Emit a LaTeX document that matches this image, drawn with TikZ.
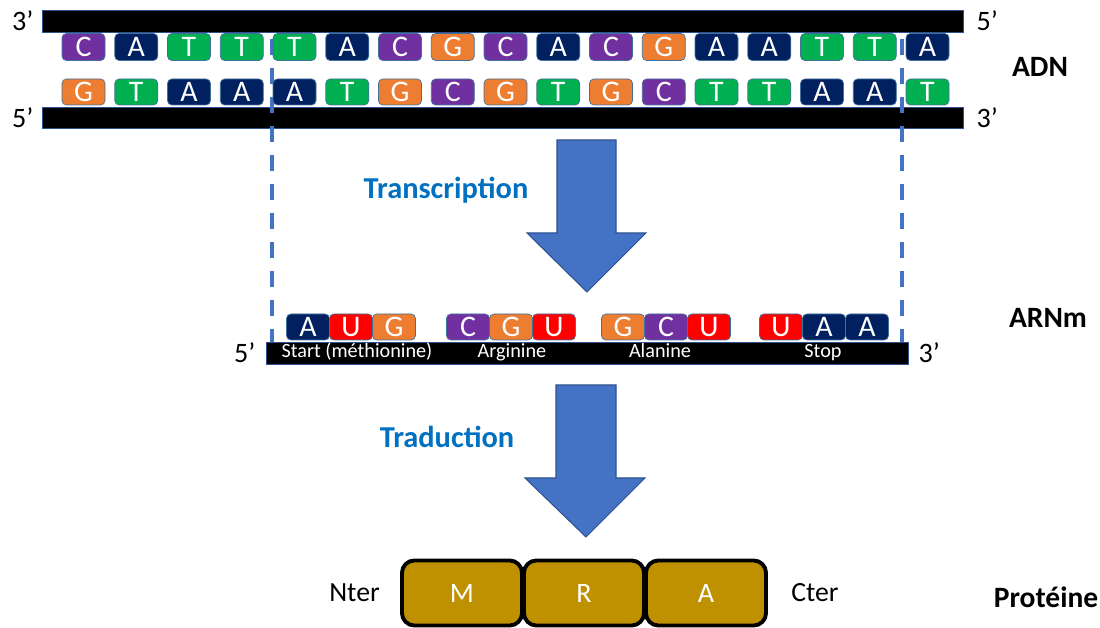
\documentclass[tikz,border=0pt]{standalone}
\usepackage{fontspec}
\setmainfont{Carlito}
\usepackage{xcolor}
\usetikzlibrary{calc,positioning}
\definecolor{nucA}{HTML}{002060}
\definecolor{nucT}{HTML}{00B050}
\definecolor{nucC}{HTML}{7030A0}
\definecolor{nucG}{HTML}{ED7D31}
\definecolor{nucU}{HTML}{FF0000}
\definecolor{boxedge}{HTML}{41719C}
\definecolor{bigblue}{HTML}{4472C4}
\definecolor{bigedge}{HTML}{2F528F}
\definecolor{steptext}{HTML}{0070C0}
\definecolor{aagold}{HTML}{BF9000}
\newcommand{\pu}{0.02cm}
\tikzset{%
	base/.style     = {draw=boxedge, fill=nuc#1, rounded corners=2.5pt, text=white, inner sep=0pt, minimum width=43*\pu, minimum height=27*\pu, font=\fontsize{17}{20}\selectfont}, % nucleotide
	strand/.style   = {draw=bigedge, fill=black, inner sep=0pt, minimum height=22*\pu}, % backbone
	prime/.style    = {inner sep=0pt, font=\fontsize{16}{19}\selectfont}, % 3' / 5'
	title/.style    = {inner sep=0pt, font=\fontsize{16.8}{20}\selectfont\bfseries}, % ADN, ARNm
	steplabel/.style= {inner sep=0pt, text=steptext, font=\fontsize{17.3}{20}\selectfont\bfseries}, % Transcription
	codonname/.style= {inner sep=0pt, text=white, text height=0.7em, text depth=0.22em, font=\fontsize{11.5}{14}\selectfont}, % Start, Stop
	residue/.style  = {draw=black, line width=2.2pt, fill=aagold, rounded corners=7pt, text=white, minimum width=120*\pu, minimum height=65*\pu, font=\fontsize{16}{19}\selectfont}, % acide amine
	plain/.style    = {inner sep=0pt, font=\fontsize{15.8}{19}\selectfont}, % Nter, Cter
	bigarrow/.style = {fill=bigblue, draw=bigedge, line width=0.6pt}, % big arrows
	cut/.style      = {draw=bigblue, line width=2pt, dash pattern=on 9pt off 7.5pt}, % gene limits
}

\begin{document}
\begin{tikzpicture}[x=\pu,y=-\pu]
		\useasboundingbox (0,0) rectangle (1100,628);
		% ADN
		\node[strand, minimum width=921*\pu] (s3) at (502.5,21) {};
		\node[strand, minimum width=921*\pu, minimum height=21*\pu] (s5) at (502.5,117.5) {};
		\node[prime, left=0.16cm of s3] (s3l) {3’};
		\node[prime, right=0.26cm of s3] (s3r) {5’};
		\node[prime, left=0.16cm of s5] (s5l) {5’};
		\node[prime, right=0.26cm of s5] (s5r) {3’};
		\node[title] (adn) at (1040,67) {ADN};
		% ARNm
		\node[strand, minimum width=642*\pu] (arn) at (587,353) {};
		\node[prime, left=0.2cm of arn] (arnl) {5’};
		\node[prime, right=0.2cm of arn] (arnr) {3’};
		\node[title] (arnm) at (1048,318) {ARNm};
		% limites du gene
		\coordinate (cutl) at (272,39);
		\coordinate (cutr) at (902,39);
		\draw[cut] (cutl) -- (cutl |- arn.north);
		\draw[cut] (cutr) -- (cutr |- arn.north);
		\foreach \b [count=\i] in {C,A,T,T,T,A,C,G,C,A,C,G,A,A,T,T,A}
			\node[base=\b] (t\i) at ({83.5+52.75*(\i-1)},47) {\b};
		\foreach \b [count=\i] in {G,T,A,A,A,T,G,C,G,T,G,C,T,T,A,A,T}
			\node[base=\b, minimum height=26*\pu] (b\i) at ({83.5+52.75*(\i-1)},92) {\b};
		\foreach \codon/\cx [count=\k] in {{A,U,G}/308, {C,G,U}/468, {G,C,U}/623, {U,A,A}/781}
			\foreach \b [count=\i] in \codon
				\node[base=\b, minimum height=26*\pu] (c\k\i) at ({\cx+43*(\i-1)},327) {\b};
		\node[codonname] (start) at (357,353) {Start (méthionine)};
		\node[codonname] (arg) at (512,353) {Arginine};
		\node[codonname] (ala) at (660,353) {Alanine};
		\node[codonname] (stop) at (823,353) {Stop};
		% fleches
		\draw[bigarrow] (557,140) -- (616,140) -- (616,233) -- (646,233) -- (587,292) -- (527,233) -- (557,233) -- cycle;
		\draw[bigarrow] (556,385) -- (616,385) -- (616,478) -- (645,478) -- (586,537) -- (525,478) -- (556,478) -- cycle;
		\node[steplabel] (transc) at (446,190) {Transcription};
		\node[steplabel] (trad) at (447,437) {Traduction};
		% proteine
		\foreach \aa [count=\i] in {M,R,A}
			\node[residue] (p\i) at ({462+122*(\i-1)},593) {\aa};
		\node[plain, left=0.4cm of p1] (nter) {Nter};
		\node[plain, right=0.46cm of p3] (cter) {Cter};
		\node[title] (prot) at (1046,597) {Protéine};
		\end{tikzpicture}
\end{document}
